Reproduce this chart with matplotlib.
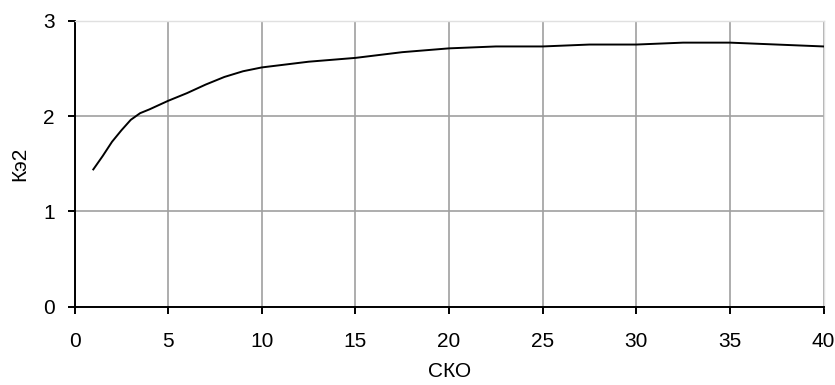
import numpy as np
import matplotlib.pyplot as plt

plt.rcParams['font.family'] = ['Liberation Sans', 'DejaVu Sans']

# СКО values and Кэ2
sko = [1, 1.5, 2, 2.5, 3, 3.5, 4, 5, 6, 7, 8, 9, 10, 12.5, 15, 17.5, 20,
       22.5, 25, 27.5, 30, 32.5, 35, 37.5, 40]
k_e2 = [1.44, 1.58, 1.73, 1.85, 1.96, 2.03, 2.07, 2.16, 2.24, 2.33, 2.41,
        2.47, 2.51, 2.57, 2.61, 2.67, 2.71, 2.73, 2.73, 2.75, 2.75, 2.77,
        2.77, 2.75, 2.73]
x_ticks = [0, 5, 10, 15, 20, 25, 30, 35, 40]
y_ticks = [0, 1, 2, 3]

fig = plt.figure(figsize=(8.35, 3.85), dpi=100)
ax = fig.add_axes([0.0893, 0.2034, 0.8970, 0.7428])

ax.plot(sko, k_e2, color='black', linewidth=1.4, zorder=3)

ax.set_xlim(0, 40)
ax.set_ylim(0, 3)
ax.set_xticks(x_ticks)
ax.set_yticks(y_ticks)
ax.grid(True, color='#a0a0a0', linewidth=1.2)
ax.set_axisbelow(True)

for s in ['top', 'right']:
    ax.spines[s].set_color('#e0e0e0')
    ax.spines[s].set_linewidth(1)
for s in ['left', 'bottom']:
    ax.spines[s].set_color('black')
    ax.spines[s].set_linewidth(1.4)

ax.tick_params(axis='both', direction='out', length=5.2, width=1.4,
               labelsize=15, color='black')
ax.tick_params(axis='x', pad=13)
ax.tick_params(axis='y', pad=9)

ax.set_xlabel('СКО', fontsize=15, labelpad=8)
ax.set_ylabel('Кэ2', fontsize=15, labelpad=10)

fig.savefig('out.png', dpi=100)
